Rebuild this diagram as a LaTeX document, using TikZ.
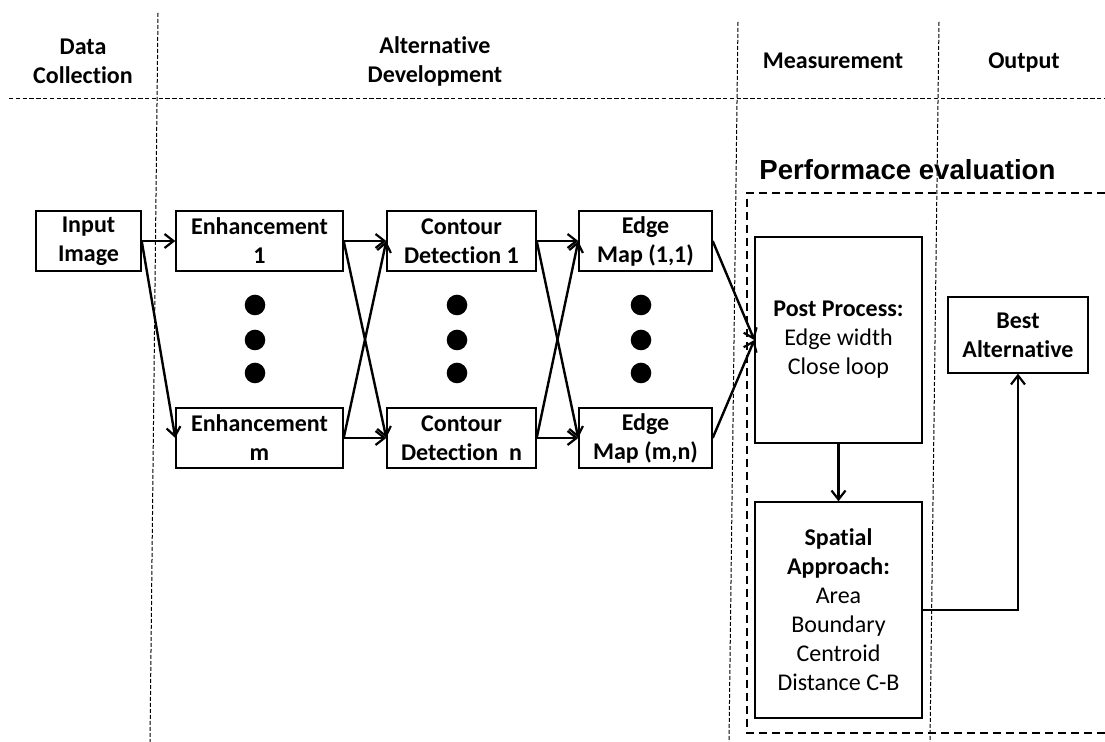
\documentclass[tikz,border=0pt]{standalone}
\usepackage{fontspec}
\setmainfont{Carlito}[Ligatures=CommonOff]
\newfontfamily\arialfont{Liberation Sans}
\usetikzlibrary{arrows.meta}
\begin{document}
\begin{tikzpicture}[x=0.5pt,y=-0.5pt,
  box/.style={draw, line width=0.7pt, inner sep=0pt, align=center, font=\fontsize{12}{14.5}\selectfont},
  smallbox/.style={box, font=\fontsize{12}{14.5}\selectfont\bfseries, minimum height=30pt},
  hdr/.style={align=center, inner sep=0pt, font=\fontsize{12}{14.5}\selectfont\bfseries},
  conn/.style={line width=1.2pt, -{Straight Barb[length=4.5pt,width=7pt,line width=1.1pt]}},
  coldash/.style={line width=0.5pt, dash pattern=on 2pt off 1pt},
  rowdash/.style={line width=0.5pt, dash pattern=on 2.2pt off 1.2pt},
  regdash/.style={line width=0.6pt, dash pattern=on 4pt off 2.5pt},
  dot/.style={circle, fill=black, inner sep=0pt, minimum size=10.3pt}
]
\useasboundingbox (0,0) rectangle (1105,742);

% column and row separators
\coordinate (l1t) at (158,13);
\coordinate (l1b) at (150,742);
\coordinate (l2t) at (738,22);
\coordinate (l2b) at (729,742);
\coordinate (l3t) at (939,22);
\coordinate (l3b) at (930,742);
\coordinate (hl) at (9,99);
\coordinate (hr) at (1105,99);
\draw[coldash] (l1t) -- (l1b);
\draw[coldash] (l2t) -- (l2b);
\draw[coldash] (l3t) -- (l3b);
\draw[rowdash] (hl) -- (hr);

% headers
\node[hdr] (hdc) at (83,61.5) {Data\\Collection};
\node[hdr] (had) at (435,61.5) {Alternative\\Development};
\node[hdr, anchor=base] (hme) at (833,69) {Measurement};
\node[hdr, anchor=base] (hou) at (1024,69) {Output};

% performance evaluation region
\node[anchor=base west, inner sep=0pt, font=\arialfont\fontsize{13.8}{16}\selectfont\bfseries] (perf) at (759,180) {Performace evaluation};
\coordinate (rtr) at (1105,193);
\coordinate (rtl) at (747,193);
\coordinate (rbl) at (747,733);
\coordinate (rbr) at (1105,733);
\draw[regdash] (rtr) -- (rtl) -- (rbl) -- (rbr);

% boxes
\node[smallbox, minimum width=52.5pt] (in) at (88.5,241) {Input\\Image};
\node[smallbox, minimum width=83.5pt] (e1) at (259.5,241) {Enhancement\\1};
\node[smallbox, minimum width=83.5pt] (em) at (259.5,438) {Enhancement\\m};
\node[smallbox, minimum width=74.5pt] (c1) at (461.5,241) {Contour\\Detection 1};
\node[smallbox, minimum width=74.5pt] (cn) at (461.5,438) {Contour\\Detection~~n};
\node[smallbox, minimum width=66.5pt] (m1) at (645.5,241) {Edge\\Map (1,1)};
\node[smallbox, minimum width=66.5pt] (mn) at (645.5,438) {Edge\\Map (m,n)};
\node[box, minimum width=83.5pt, minimum height=103pt] (pp) at (838.5,340)
  {\textbf{Post Process:}\\Edge width\\Close loop};
\node[box, minimum width=83.5pt, minimum height=108pt] (sp) at (838.5,610)
  {\textbf{Spatial}\\\textbf{Approach:}\\Area\\Boundary\\Centroid\\Distance C-B};
\node[box, font=\fontsize{12}{14.5}\selectfont\bfseries, minimum width=70pt, minimum height=38pt] (best) at (1018,335) {Best\\Alternative};

% dots
\foreach \x/\n in {255/A,457/B,641/C}{
  \node[dot] (dot\n1) at (\x,305) {};
  \node[dot] (dot\n2) at (\x,340) {};
  \node[dot] (dot\n3) at (\x,373) {};
}

% connectors
\draw[conn] (in.east) -- (e1.west);
\draw[conn] (in.east) -- (em.west);
\draw[conn] (e1.east) -- (c1.west);
\draw[conn] (e1.east) -- (cn.west);
\draw[conn] (em.east) -- (cn.west);
\draw[conn] (em.east) -- (c1.west);
\draw[conn] (c1.east) -- (m1.west);
\draw[conn] (c1.east) -- (mn.west);
\draw[conn] (cn.east) -- (mn.west);
\draw[conn] (cn.east) -- (m1.west);
\draw[conn] (m1.east) -- (pp.west);
\draw[conn] (mn.east) -- (pp.west);
\draw[conn] (pp.south) -- (sp.north);
\draw[conn] (sp.east) -| (best.south);
\end{tikzpicture}
\end{document}
